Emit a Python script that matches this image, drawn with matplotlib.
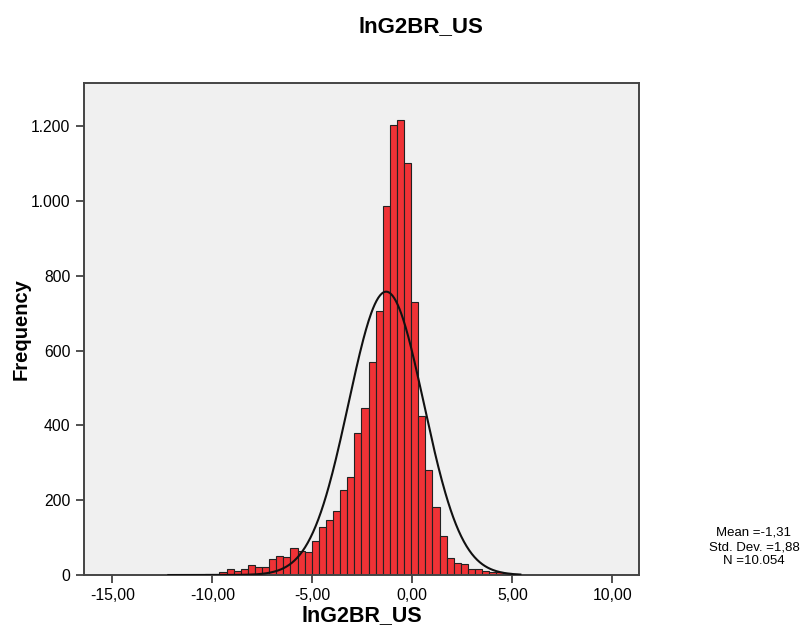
import numpy as np
import matplotlib
matplotlib.use("Agg")
import matplotlib.pyplot as plt

plt.rcParams['font.family'] = ['Liberation Sans', 'DejaVu Sans']

# histogram bins (left edge of first bin and width)
bin_start = -11.775
bin_width = 0.355
counts = [1, 0, 1, 0, 2, 3, 7, 15, 12, 15, 28, 22, 22, 42, 51, 49, 71, 64, 62,
          91, 128, 147, 172, 227, 263, 379, 446, 569, 706,
          987, 1203, 1215, 1102,
          731, 426, 281, 183, 105, 45,
          31, 29, 16, 16, 12, 9, 8, 5, 3]

mean = -1.31
std = 1.88
n_obs = 10054

x_ticks = [-15, -10, -5, 0, 5, 10]
x_tick_labels = ["-15,00", "-10,00", "-5,00", "0,00", "5,00", "10,00"]
y_ticks = [0, 200, 400, 600, 800, 1000, 1200]
y_tick_labels = ["0", "200", "400", "600", "800", "1.000", "1.200"]

fig = plt.figure(figsize=(8.03, 6.33), dpi=100)
ax = fig.add_axes([0.104, 0.0916, 0.692, 0.7772])
ax.set_facecolor('#f0f0f0')

lefts = bin_start + bin_width * np.arange(len(counts))
ax.bar(lefts, counts, width=bin_width, align='edge', color='#ef3236',
       edgecolor='#222222', linewidth=0.8, zorder=2)

# normal curve scaled to the histogram
xs = np.linspace(-12.2, 5.4, 400)
ys = n_obs * bin_width / (std * np.sqrt(2 * np.pi)) * np.exp(-0.5 * ((xs - mean) / std) ** 2)
ax.plot(xs, ys, color='#111111', linewidth=1.5, zorder=3)

ax.set_xlim(-16.44, 11.34)
ax.set_ylim(0, 1315)
ax.set_xticks(x_ticks)
ax.set_xticklabels(x_tick_labels, fontsize=11.3)
ax.set_yticks(y_ticks)
ax.set_yticklabels(y_tick_labels, fontsize=11.3)
ax.tick_params(direction='out', length=6, width=1.2, color='#333333')

for s in ax.spines.values():
    s.set_color('#444444')
    s.set_linewidth(1.4)

ax.set_xlabel("lnG2BR_US", fontsize=15.5, fontweight='bold', labelpad=1)
ax.set_ylabel("Frequency", fontsize=14.5, fontweight='bold', labelpad=0)
fig.text(421 / 803, 1 - 27 / 633, "lnG2BR_US", fontsize=16, fontweight='bold',
         ha='center', va='center')

fig.text(754 / 803, 1 - 547 / 633,
         "Mean =-1,31\nStd. Dev. =1,88\nN =10.054",
         fontsize=9.5, ha='center', va='center', linespacing=1.25)

fig.savefig("out.png", dpi=100)
